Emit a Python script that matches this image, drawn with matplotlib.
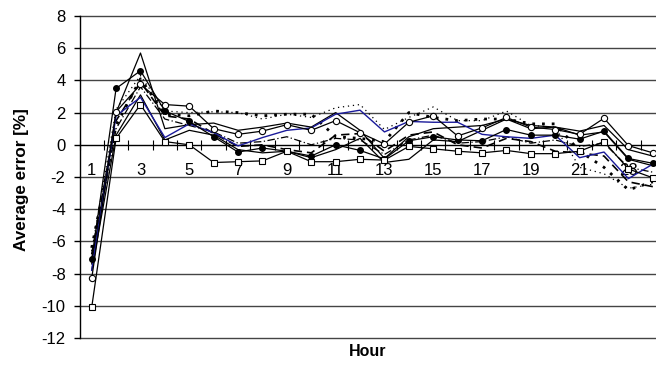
import matplotlib
matplotlib.use("Agg")
import matplotlib.pyplot as plt
import numpy as np

plt.rcParams['font.family'] = ['Liberation Sans', 'DejaVu Sans']

hours = list(range(1, 25))
x_labels = ["1", "3", "5", "7", "9", "11", "13", "15", "17", "19", "21", "23"]
y_ticks = [-12, -10, -8, -6, -4, -2, 0, 2, 4, 6, 8]

open_circles = [-8.3, 2.05, 3.75, 2.5, 2.4, 1.0, 0.65, 0.85, 1.25, 0.9, 1.5, 0.75,
                0.05, 1.4, 1.8, 0.55, 1.05, 1.7, 1.1, 0.95, 0.65, 1.65, -0.05, -0.5]
open_squares = [-10.1, 0.4, 2.5, 0.2, 0.0, -1.1, -1.05, -1.0, -0.4, -1.05, -1.05, -0.9,
                -0.95, -0.1, -0.25, -0.4, -0.5, -0.35, -0.55, -0.55, -0.4, 0.2, -1.5, -2.05]
filled_circles = [-7.1, 3.5, 4.6, 2.1, 1.45, 0.5, -0.45, -0.2, -0.4, -0.7, 0.0, -0.35,
                  -0.88, 0.25, 0.5, 0.3, 0.25, 0.95, 0.6, 0.6, 0.35, 0.85, -0.85, -1.15]
blue_line = [-7.8, 1.8, 2.95, 0.45, 1.3, 0.75, -0.07, 0.45, 0.9, 1.05, 1.9, 2.15,
             0.8, 1.45, 1.4, 1.4, 0.65, 0.5, 0.4, 0.6, -0.8, -0.45, -2.1, -1.2]
solid_peak = [-7.4, 2.0, 5.7, 1.0, 1.25, 1.35, 0.9, 1.1, 1.35, 1.1, 2.0, 0.9,
              -0.85, 0.5, 1.0, 1.1, 1.2, 1.6, 1.0, 1.1, 0.85, 1.2, -0.3, -0.7]
solid_low = [-7.8, 0.6, 3.1, 0.3, 0.9, 0.6, -0.3, -0.5, -0.4, -0.8, -0.3, 0.4,
             -1.1, -0.9, 0.3, 0.2, 0.9, 1.6, 1.2, 1.1, 0.6, 0.8, -0.9, -1.3]
fine_dotted = [-6.6, 2.2, 4.3, 2.1, 2.0, 2.05, 2.0, 1.6, 1.9, 1.7, 2.3, 2.5,
               0.95, 1.7, 2.35, 1.5, 1.5, 2.1, 1.2, 1.1, -1.4, -1.8, -2.7, -2.45]
heavy_dotted = [-6.4, 1.2, 4.1, 1.9, 1.8, 2.1, 2.0, 1.8, 1.9, 1.9, 0.5, 0.4,
                0.2, 2.0, 1.7, 1.5, 1.6, 1.6, 1.3, 1.3, -0.4, -1.4, -2.8, -2.3]
dashed = [-6.8, 1.5, 3.9, 1.8, 1.6, 0.7, -0.1, 0.0, -0.3, -0.5, 0.6, 0.7,
          -0.4, 0.6, 0.8, 0.0, -0.2, 0.4, 0.2, -0.4, -0.5, -0.7, -2.3, -2.6]
dash_dot = [-7.2, 1.0, 3.6, 1.6, 1.2, 0.8, 0.1, 0.2, 0.5, 0.0, 0.4, 0.3,
            -0.6, 0.3, 0.6, 0.1, 0.2, 0.5, 0.1, 0.3, -0.1, 0.1, -1.4, -1.7]

W, H = 656, 381
fig = plt.figure(figsize=(W / 100, H / 100), dpi=100)
left, right = 79.5, 665.0
top, bottom = 16.0, 338.0
ax = fig.add_axes([left / W, 1 - bottom / H, (right - left) / W, (bottom - top) / H])
ax.set_xlim(0.5, 24.5)
ax.set_ylim(-12, 8)

for yv in y_ticks:
    if yv != 0:
        ax.axhline(yv, color='#444444', lw=1.0, zorder=1, clip_on=False)

lw = 0.9
ax.plot(hours, fine_dotted, color='black', lw=0.9, ls=(0, (1, 3)), zorder=3)
ax.plot(hours, heavy_dotted, color='black', lw=2.0, ls=(0, (1, 2.5)), zorder=3)
ax.plot(hours, dashed, color='black', lw=1.2, ls=(0, (5, 3)), zorder=3)
ax.plot(hours, dash_dot, color='black', lw=0.9, ls=(0, (6, 2, 1, 2)), zorder=3)
ax.plot(hours, solid_peak, color='black', lw=lw, zorder=4)
ax.plot(hours, solid_low, color='black', lw=lw, zorder=4)
ax.plot(hours, blue_line, color='#1a1a9a', lw=1.0, zorder=5)
ax.plot(hours, filled_circles, color='black', lw=lw, marker='o', ms=4,
        mfc='black', mec='black', zorder=6)
ax.plot(hours, open_squares, color='black', lw=lw, marker='s', ms=4,
        mfc='white', mec='black', mew=0.8, zorder=6)
ax.plot(hours, open_circles, color='black', lw=lw, marker='o', ms=4.5,
        mfc='white', mec='black', mew=0.8, zorder=6)

for s in ['top', 'right']:
    ax.spines[s].set_visible(False)
ax.spines['bottom'].set_position(('data', 0))
ax.spines['bottom'].set_linewidth(1.0)
ax.spines['left'].set_linewidth(1.0)

ax.set_yticks(y_ticks)
ax.set_yticklabels([str(v) for v in y_ticks], fontsize=12)
ax.tick_params(axis='y', direction='out', length=4, width=1, pad=6)

ax.set_xticks(np.arange(0.5, 25, 1.0))
ax.set_xticklabels([])
ax.tick_params(axis='x', which='major', direction='inout', length=7, width=0.8)
ax.set_xticks(list(range(1, 25, 2)), minor=True)
ax.set_xticklabels(x_labels, minor=True, fontsize=12)
ax.tick_params(axis='x', which='minor', length=0, pad=13)

fig.text(22 / W, 1 - 180 / H, "Average error [%]", rotation=90, fontsize=12.3,
         fontweight='bold', ha='center', va='center')
fig.text(368 / W, 1 - 352 / H, "Hour", fontsize=11.5, fontweight='bold',
         ha='center', va='center')

fig.savefig("out.png", dpi=100)
